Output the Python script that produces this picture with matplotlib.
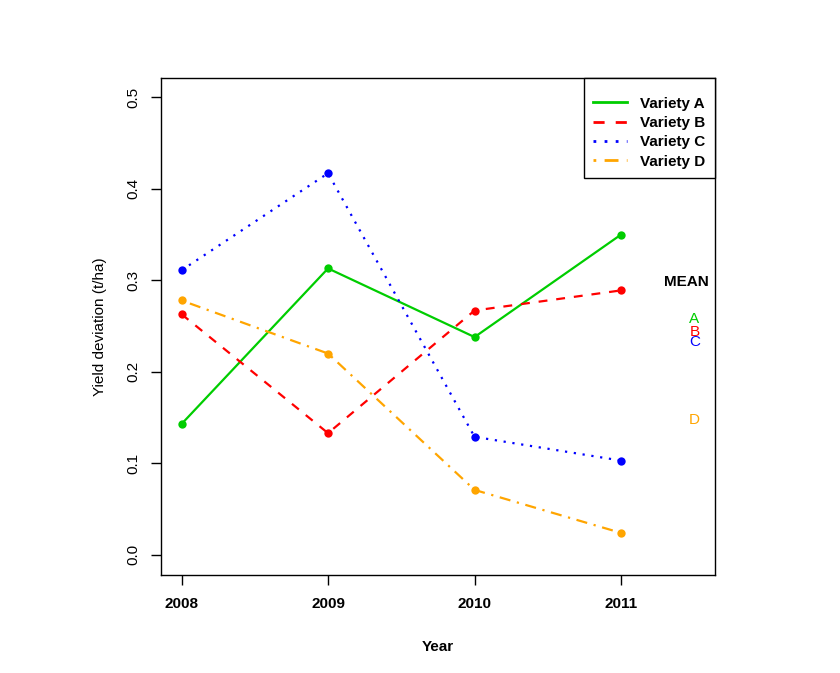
import matplotlib
matplotlib.use("Agg")

import matplotlib.pyplot as plt
from matplotlib.lines import Line2D

# Data
years = [2008, 2009, 2010, 2011]
variety_a = [0.143, 0.313, 0.238, 0.350]
variety_b = [0.263, 0.133, 0.267, 0.289]
variety_c = [0.311, 0.417, 0.129, 0.103]
variety_d = [0.278, 0.220, 0.071, 0.024]

names = ["Variety A", "Variety B", "Variety C", "Variety D"]
mean_letters = ["A", "B", "C", "D"]
mean_label_y = [0.258, 0.244, 0.233, 0.147]
yticks = [0.0, 0.1, 0.2, 0.3, 0.4, 0.5]

series = [variety_a, variety_b, variety_c, variety_d]
colors = ["#00CD00", "#FF0000", "#0000FF", "#FFA500"]
styles = ["-", (0, (4, 4)), (0, (1, 3)), (0, (1, 3, 5, 3))]

plt.rcParams["font.family"] = ["Liberation Sans", "DejaVu Sans"]

fig = plt.figure(figsize=(8.4, 6.73), dpi=100)
ax = fig.add_axes([0.1917, 0.1456, 0.6593, 0.7384])

for vals, name, c, ls in zip(series, names, colors, styles):
    ax.plot(years, vals, color=c, linestyle=ls, linewidth=1.6,
            marker="o", markersize=6, markeredgewidth=0)

# mean labels on the right
ax.text(2011.6, 0.298, "MEAN", ha="right", va="center",
        fontsize=11, fontweight="bold")
for letter, y, c in zip(mean_letters, mean_label_y, colors):
    ax.text(2011.5, y, letter, ha="center", va="center",
            fontsize=11, color=c)

ax.set_xlim(2007.86, 2011.64)
ax.set_ylim(-0.022, 0.521)
ax.set_xticks(years)
ax.set_xticklabels([str(y) for y in years], fontsize=11, fontweight="bold")
ax.set_yticks(yticks)
ax.set_yticklabels([f"{v:.1f}" for v in yticks], rotation=90,
                   va="center", fontsize=11)
ax.tick_params(axis="both", direction="out", length=7, width=1)
ax.tick_params(axis="x", pad=9)
ax.tick_params(axis="y", pad=8)
for s in ax.spines.values():
    s.set_linewidth(1)

ax.set_xlabel("Year", fontsize=11, fontweight="bold", labelpad=21)
ax.set_ylabel("Yield deviation (t/ha)", fontsize=11, labelpad=14)

handles = [Line2D([], [], color=c, linestyle=ls, linewidth=2)
           for c, ls in zip(colors, styles)]
leg = ax.legend(handles, names, loc="upper right", frameon=True, fancybox=False,
                framealpha=1, edgecolor="black", handlelength=2.2,
                handletextpad=0.9, borderaxespad=0, borderpad=0.6,
                labelspacing=0.35, prop={"weight": "bold", "size": 11},
                title=" ", title_fontsize=3)
leg.get_frame().set_linewidth(1)

plt.savefig("out.png", dpi=100)
